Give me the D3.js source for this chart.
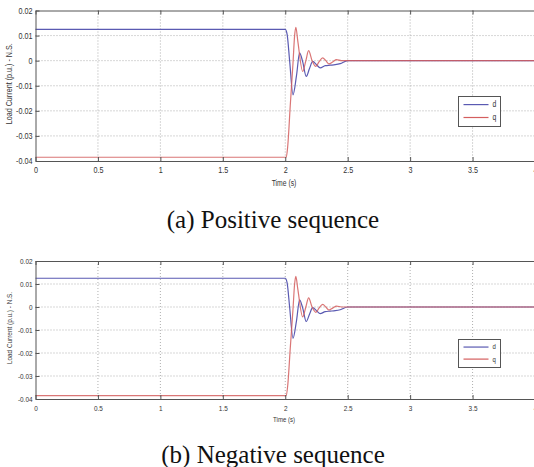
<!DOCTYPE html>
<html><head><meta charset="utf-8">
<script src="https://cdn.jsdelivr.net/npm/d3@7"></script>
<style>body{margin:0;background:#fff} svg{display:block}</style>
</head><body><svg id="c" width="534" height="467"></svg>
<script>
// ---- data ----
const xTicks = [0, 0.5, 1, 1.5, 2, 2.5, 3, 3.5, 4];
const xTickLabels = ["0", "0.5", "1", "1.5", "2", "2.5", "3", "3.5", "4"];
const yTicks = [0.02, 0.01, 0, -0.01, -0.02, -0.03, -0.04];
const yTickLabels = ["0.02", "0.01", "0", "-0.01", "-0.02", "-0.03", "-0.04"];
const seriesNames = ["d", "q"];

const dTime = [0, 2.0, 2.015, 2.035, 2.062, 2.09, 2.115, 2.14, 2.168, 2.195, 2.22, 2.25, 2.28, 2.32, 2.36, 2.40, 2.44, 2.5, 3.0, 4.0];
const dPos  = [0.0125, 0.0125, 0.0105, 0.000, -0.0136, -0.006, 0.0031, -0.0005, -0.0063, -0.003, -0.0003, -0.0016, -0.0029, -0.002, -0.0018, -0.0016, -0.0012, 0, 0, 0];
const dNeg  = [0.0125, 0.0125, 0.0105, 0.000, -0.0136, -0.006, 0.0031, -0.0005, -0.0063, -0.003, -0.0003, -0.0016, -0.0029, -0.002, -0.0018, -0.0016, -0.0012, 0, 0, 0];

const qTime = [0, 2.008, 2.02, 2.04, 2.062, 2.075, 2.085, 2.10, 2.14, 2.165, 2.187, 2.215, 2.245, 2.27, 2.30, 2.325, 2.35, 2.38, 2.41, 2.45, 2.5, 3.0, 4.0];
const qPos  = [-0.0385, -0.0385, -0.034, -0.018, -0.001, 0.010, 0.0133, 0.008, -0.0043, 0.000, 0.004, 0.000, -0.0023, -0.0005, 0.0011, 0.000, -0.0013, -0.0005, 0.0004, 0, 0, 0, 0];
const qNeg  = [-0.0385, -0.0385, -0.034, -0.018, -0.001, 0.010, 0.0133, 0.008, -0.0043, 0.000, 0.004, 0.000, -0.0023, -0.0005, 0.0011, 0.000, -0.0013, -0.0005, 0.0004, 0, 0, 0, 0];

const captions = ["(a) Positive sequence", "(b) Negative sequence"];

// ---- layout ----
const panels = [
  {d: dPos, q: qPos, top: 10.5, bottom: 161, tickY: 173, xlabY: 186, fs: 9, cap: captions[0], capY: 227.5,
   leg: {x: 458.5, y: 96.5, w: 42, h: 30}},
  {d: dNeg, q: qNeg, top: 261, bottom: 399, tickY: 411, xlabY: 421.5, fs: 8, cap: captions[1], capY: 462.5,
   leg: {x: 458.5, y: 339.5, w: 42, h: 28}}
];
const left = 35.5, right = 535;
const colD = "#5a5ab2", colQ = "#d45e5e";
const svg = d3.select("#c");
const font = "'Liberation Sans',Arial,sans-serif";
const squeeze = 0.8;

function narrow(sel) {
  sel.each(function() {
    const w = this.getComputedTextLength();
    if (w > 0) d3.select(this).attr("textLength", w * squeeze).attr("lengthAdjust", "spacingAndGlyphs");
  });
}

panels.forEach(p => {
  const x = d3.scaleLinear().domain([0, 4]).range([left, right]);
  const y = d3.scaleLinear().domain([-0.04, 0.02]).range([p.bottom, p.top]);
  const g = svg.append("g");

  // grid
  g.append("g").selectAll("line").data(xTicks.slice(1, -1)).join("line")
    .attr("x1", d => x(d)).attr("x2", d => x(d)).attr("y1", p.top).attr("y2", p.bottom)
    .attr("stroke", "#9a9a9a").attr("stroke-width", 0.8).attr("stroke-dasharray", "1,2");
  g.append("g").selectAll("line").data(yTicks.slice(1, -1)).join("line")
    .attr("x1", left).attr("x2", right).attr("y1", d => y(d)).attr("y2", d => y(d))
    .attr("stroke", "#9a9a9a").attr("stroke-width", 0.8).attr("stroke-dasharray", "1,2");

  // lines
  const lineD = d3.line().x((d, i) => x(dTime[i])).y(d => y(d)).curve(d3.curveMonotoneX);
  const lineQ = d3.line().x((d, i) => x(qTime[i])).y(d => y(d)).curve(d3.curveMonotoneX);
  g.append("path").attr("d", lineD(p.d)).attr("fill", "none").attr("stroke", colD).attr("stroke-width", 1.2);
  g.append("path").attr("d", lineQ(p.q)).attr("fill", "none").attr("stroke", colQ).attr("stroke-width", 1.2).attr("stroke-opacity", 0.85);

  // axes (ticks inside)
  const xb = g.append("g").attr("transform", `translate(0,${p.bottom})`)
    .call(d3.axisBottom(x).tickValues(xTicks).tickSizeInner(-4).tickSizeOuter(0).tickFormat((d, i) => xTickLabels[i]));
  const xt = g.append("g").attr("transform", `translate(0,${p.top})`)
    .call(d3.axisTop(x).tickValues(xTicks).tickSizeInner(-4).tickSizeOuter(0).tickFormat(""));
  const yl = g.append("g").attr("transform", `translate(${left},0)`)
    .call(d3.axisLeft(y).tickValues(yTicks).tickSizeInner(-4).tickSizeOuter(0).tickFormat((d, i) => yTickLabels[i]));
  [xb, xt, yl].forEach(a => {
    a.select(".domain").attr("stroke", "#555");
    a.selectAll(".tick line").attr("stroke", "#555");
    a.selectAll("text").attr("fill", "#333").attr("font-family", font).attr("font-size", p.fs);
  });
  xb.selectAll("text").attr("dy", null).attr("y", p.tickY - p.bottom);
  yl.selectAll("text").attr("x", -3).attr("dy", "0.32em");
  narrow(xb.selectAll("text"));
  narrow(yl.selectAll("text"));

  // axis labels
  narrow(g.append("text").attr("x", 284).attr("y", p.xlabY).attr("text-anchor", "middle")
    .attr("font-family", font).attr("font-size", p.fs - 0.5).attr("fill", "#333").text("Time (s)"));
  narrow(g.append("text").attr("transform", `translate(12,${(p.top + p.bottom) / 2 - 2}) rotate(-90)`)
    .attr("text-anchor", "middle").attr("font-family", font).attr("font-size", p.fs).attr("fill", "#333")
    .text("Load Current (p.u.) - N.S."));

  // legend
  const L = p.leg;
  g.append("rect").attr("x", L.x).attr("y", L.y).attr("width", L.w).attr("height", L.h)
    .attr("fill", "#fff").attr("stroke", "#555").attr("stroke-width", 1);
  seriesNames.forEach((n, i) => {
    const ly = L.y + L.h * (i === 0 ? 0.27 : 0.7);
    g.append("line").attr("x1", L.x + 5).attr("x2", L.x + 30).attr("y1", ly).attr("y2", ly)
      .attr("stroke", i === 0 ? colD : colQ).attr("stroke-width", 1.2);
    narrow(g.append("text").attr("x", L.x + 34).attr("y", ly).attr("dy", "0.32em")
      .attr("font-family", font).attr("font-size", p.fs - 0.5).attr("fill", "#333").text(n));
  });

  // caption
  svg.append("text").attr("x", 273).attr("y", p.capY).attr("text-anchor", "middle")
    .attr("font-family", "'Liberation Serif','Times New Roman',serif").attr("font-size", 25)
    .attr("fill", "#111").text(p.cap);
});
</script></body></html>
